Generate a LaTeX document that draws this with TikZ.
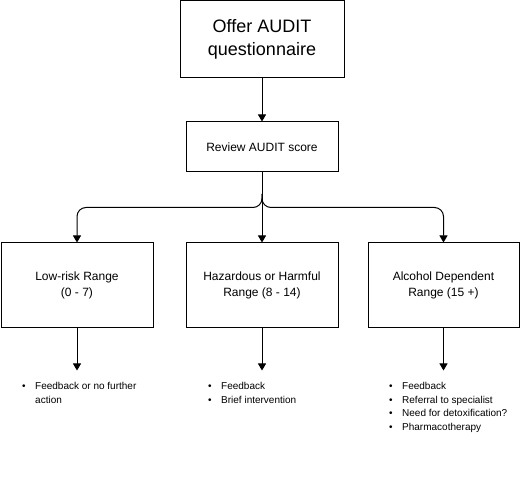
\documentclass[tikz,border=0pt]{standalone}
\usepackage{fontspec}
\setmainfont{Liberation Sans}
\usetikzlibrary{arrows.meta,calc}
\tikzset{
  boxnode/.style={draw=black, line width=1pt, inner sep=0pt, align=center},
  conn/.style={line width=1pt, -{Triangle[width=8pt,length=7pt]}},
  listnode/.style={anchor=north west, inner sep=0pt, font=\fontsize{10}{13.5}\selectfont},
}
\newcommand{\blt}{\textbullet}
\begin{document}
\begin{tikzpicture}[x=1pt,y=1pt]
\useasboundingbox (0,0) rectangle (520,-494);
\node[boxnode, minimum width=164pt, minimum height=77pt, font=\fontsize{18}{23}\selectfont] (offer) at (262,-39.5) {Offer AUDIT\\questionnaire};
\node[boxnode, minimum width=152pt, minimum height=50pt, font=\fontsize{12}{16}\selectfont] (rev) at (262,-147) {Review AUDIT score};
\node[boxnode, minimum width=152pt, minimum height=85pt, font=\fontsize{12}{16.5}\selectfont] (low) at (77,-285.5) {Low-risk Range\\(0 - 7)};
\node[boxnode, minimum width=152pt, minimum height=85pt, font=\fontsize{12}{16.5}\selectfont] (haz) at (262,-285.5) {Hazardous or Harmful\\Range (8 - 14)};
\node[boxnode, minimum width=151pt, minimum height=85pt, font=\fontsize{12}{16.5}\selectfont] (dep) at (443.5,-285.5) {Alcohol Dependent\\Range (15 +)};
\draw[conn] (offer) -- (rev);
\coordinate (split) at (262,-194);
\draw[conn] (rev) -- (haz);
\draw[conn, rounded corners=9pt] (split) |- ($(low.north)+(0,35)$) -- (low.north);
\draw[conn, rounded corners=9pt] (split) |- ($(dep.north)+(0,35)$) -- (dep.north);
\coordinate (lowend) at ($(low.south)+(0,-42)$);
\coordinate (hazend) at ($(haz.south)+(0,-42)$);
\coordinate (depend) at ($(dep.south)+(0,-42)$);
\draw[conn] (low) -- (lowend);
\draw[conn] (haz) -- (hazend);
\draw[conn] (dep) -- (depend);
\node[listnode] (lowlist) at (22,-380) {\begin{tabular}{@{}l@{\hspace{9.5pt}}l@{}}\blt & Feedback or no further\\ & action\end{tabular}};
\node[listnode] (hazlist) at (208,-380) {\begin{tabular}{@{}l@{\hspace{9.5pt}}l@{}}\blt & Feedback\\ \blt & Brief intervention\end{tabular}};
\node[listnode] (deplist) at (389,-380) {\begin{tabular}{@{}l@{\hspace{9.5pt}}l@{}}\blt & Feedback\\ \blt & Referral to specialist\\ \blt & Need for detoxification?\\ \blt & Pharmacotherapy\end{tabular}};
\end{tikzpicture}
\end{document}
